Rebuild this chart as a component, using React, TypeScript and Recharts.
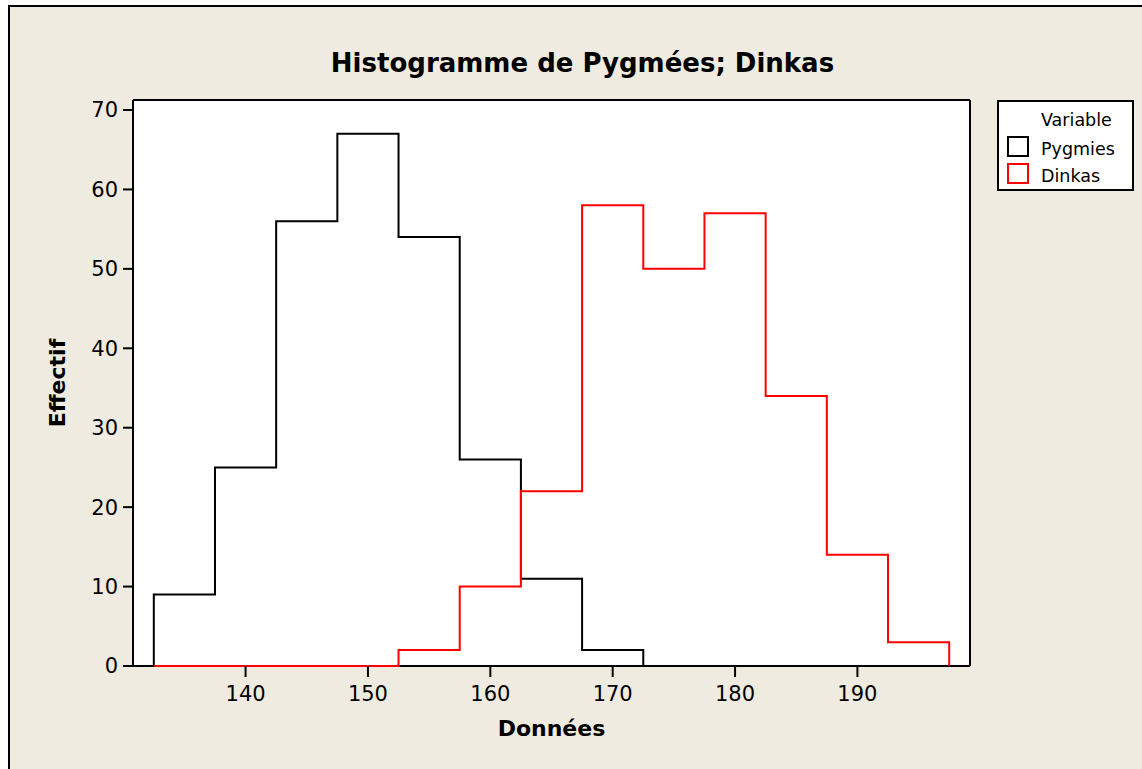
import { LineChart, Line, XAxis, YAxis, CartesianGrid, Legend, Label } from "recharts";

// bin edges of the histogram (class width 5)
const binEdges = [132.5, 137.5, 142.5, 147.5, 152.5, 157.5, 162.5, 167.5, 172.5, 177.5, 182.5, 187.5, 192.5, 197.5];
const pygmies = [9, 25, 56, 67, 54, 26, 11, 2, 0, 0, 0, 0, 0];
const dinkas = [0, 0, 0, 0, 2, 10, 22, 58, 50, 57, 34, 14, 3];
const seriesOrder = ["Pygmies", "Dinkas"];
const xTicks = [140, 150, 160, 170, 180, 190];
const yTicks = [0, 10, 20, 30, 40, 50, 60, 70];

const X_DOMAIN = [130.8, 199.2];
const Y_DOMAIN = [0, 71.26];

// step outline: start at 0 on the first edge, one point per bin, back to 0 on the last edge
const data = [
  { x: binEdges[0], Pygmies: 0, Dinkas: 0 },
  ...pygmies.map((p, i) => ({ x: binEdges[i], Pygmies: p, Dinkas: dinkas[i] })),
  { x: binEdges[binEdges.length - 1], Pygmies: 0, Dinkas: 0 },
];

const FONT = "'DejaVu Sans', Verdana, sans-serif";

function LegendBox({ payload }: any) {
  const items = seriesOrder
    .map((name) => (payload || []).find((p: any) => p.value === name))
    .filter(Boolean);
  return (
    <div
      style={{
        position: "relative",
        width: 133,
        height: 87,
        border: "2px solid #000",
        background: "#fff",
        fontFamily: FONT,
        fontSize: 17.5,
        lineHeight: "20px",
        color: "#000",
      }}
    >
      <div style={{ position: "absolute", left: 42, top: 8 }}>Variable</div>
      {items.map((it: any, i: number) => (
        <div key={it.value}>
          <div
            style={{
              position: "absolute",
              left: 8,
              top: 34 + i * 27,
              width: 18,
              height: 17,
              border: `2px solid ${it.color}`,
            }}
          />
          <div style={{ position: "absolute", left: 42, top: 37 + i * 27 }}>{it.value}</div>
        </div>
      ))}
    </div>
  );
}

export default function App() {
  return (
    <div style={{ position: "absolute", left: 0, top: 0, width: 1142, height: 769, background: "#fff", overflow: "hidden" }}>
      <div
        style={{
          position: "absolute",
          left: 8,
          top: 5,
          width: 1150,
          height: 780,
          background: "#EFEBE0",
          borderLeft: "2px solid #000",
          borderTop: "2px solid #000",
        }}
      />
      <div
        style={{
          position: "absolute",
          left: 0,
          top: 50,
          width: 1165,
          textAlign: "center",
          fontFamily: FONT,
          fontWeight: "bold",
          fontSize: 26,
          lineHeight: "26px",
          color: "#000",
        }}
      >
        Histogramme de Pygmées; Dinkas
      </div>
      <LineChart
        width={1142}
        height={769}
        data={data}
        margin={{ top: 100, right: 172, bottom: 0, left: 0 }}
        style={{ position: "absolute", left: 0, top: 0 }}
      >
        <CartesianGrid
          fill="#fff"
          stroke="#000"
          strokeWidth={2}
          horizontalValues={[Y_DOMAIN[0], Y_DOMAIN[1]]}
          verticalValues={[X_DOMAIN[0], X_DOMAIN[1]]}
        />
        <XAxis
          dataKey="x"
          type="number"
          domain={X_DOMAIN}
          ticks={xTicks}
          height={103}
          axisLine={false}
          tickSize={11}
          tickMargin={9}
          tickLine={{ stroke: "#000", strokeWidth: 2 }}
          tick={{ fill: "#000", fontSize: 21, fontFamily: FONT }}
        >
          <Label
            value="Données"
            position="insideBottom"
            offset={33}
            style={{ fontFamily: FONT, fontWeight: "bold", fontSize: 22, fill: "#000" }}
          />
        </XAxis>
        <YAxis
          type="number"
          domain={Y_DOMAIN}
          ticks={yTicks}
          width={133}
          axisLine={false}
          tickSize={10}
          tickMargin={5}
          tickLine={{ stroke: "#000", strokeWidth: 2 }}
          tick={{ fill: "#000", fontSize: 21, fontFamily: FONT }}
        >
          <Label
            content={() => (
              <text
                x={57}
                y={383}
                transform="rotate(-90 57 383)"
                textAnchor="middle"
                dominantBaseline="central"
                style={{ fontFamily: FONT, fontWeight: "bold", fontSize: 22, fill: "#000" }}
              >
                Effectif
              </text>
            )}
          />
        </YAxis>
        <Legend
          layout="horizontal"
          verticalAlign="middle"
          align="center"
          content={<LegendBox />}
          wrapperStyle={{ left: 997, top: 100, width: 137, height: 91 }}
        />
        <Line
          type="stepAfter"
          dataKey="Pygmies"
          stroke="#000"
          strokeWidth={2}
          dot={false}
          activeDot={false}
          isAnimationActive={false}
        />
        <Line
          type="stepAfter"
          dataKey="Dinkas"
          stroke="#ff0000"
          strokeWidth={2}
          dot={false}
          activeDot={false}
          isAnimationActive={false}
        />
      </LineChart>
    </div>
  );
}
